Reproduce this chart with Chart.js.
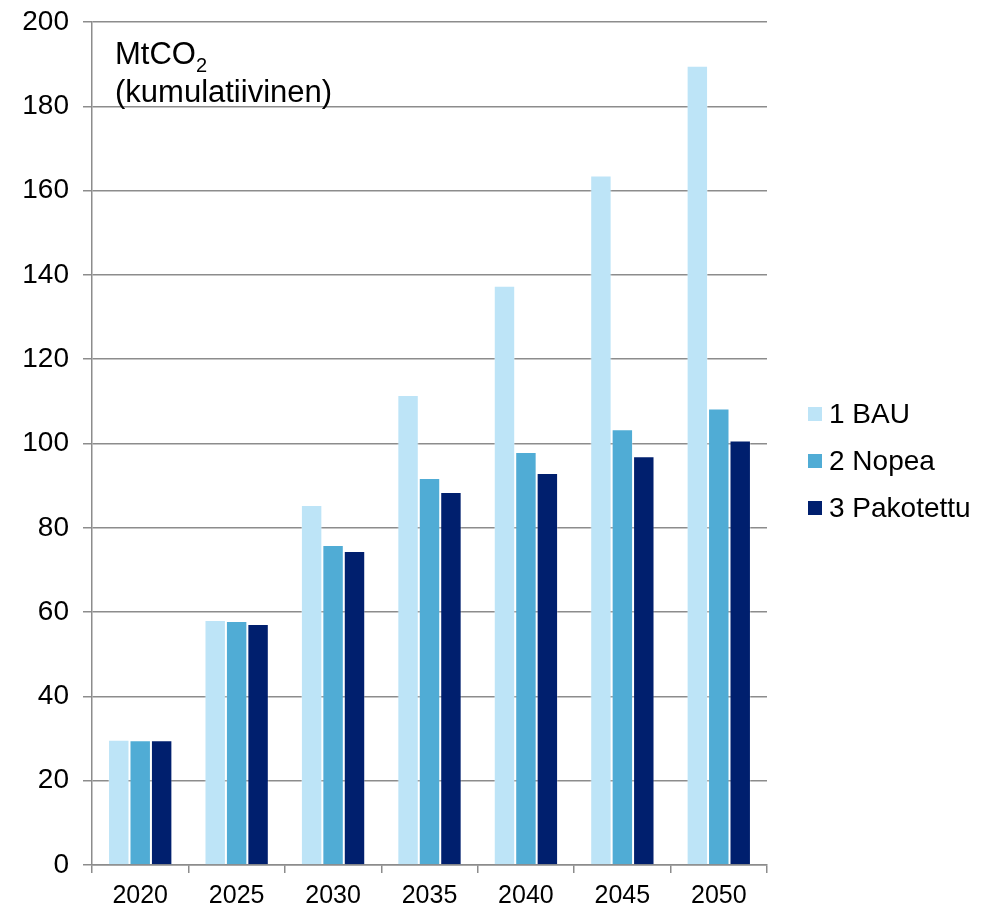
<!DOCTYPE html>
<html>
<head>
<meta charset="utf-8">
<script src="https://cdn.jsdelivr.net/npm/chart.js@4"></script>
<style>
  html, body { margin: 0; padding: 0; background: #fff; }
  #wrap { width: 986px; height: 910px; position: relative; }
</style>
</head>
<body>
<div id="wrap"><canvas id="myChart" width="986" height="910"></canvas></div>
<script>
// kumulatiiviset päästöt, MtCO2
const years = ['2020', '2025', '2030', '2035', '2040', '2045', '2050'];
const bau = [29.7, 58.1, 85.4, 111.5, 137.4, 163.6, 189.6];
const nopea = [29.6, 57.9, 75.9, 91.8, 98.0, 103.4, 108.3];
const pakotettu = [29.6, 57.2, 74.5, 88.5, 93.0, 97.0, 100.7];
const seriesNames = ['1 BAU', '2 Nopea', '3 Pakotettu'];
const yTicks = [0, 20, 40, 60, 80, 100, 120, 140, 160, 180, 200];

const colors = ['#bde4f7', '#50acd5', '#001f6e'];
const gridColor = '#8c8c8c';
const font = '"Liberation Sans", Arial, sans-serif';

// unit label in the upper left corner of the plot
const unitLabel = {
    id: 'unitLabel',
    afterDraw(chart) {
        const {ctx, chartArea} = chart;
        const x = chartArea.left + 23;
        ctx.save();
        ctx.fillStyle = '#000';
        ctx.textBaseline = 'alphabetic';
        ctx.textAlign = 'left';
        ctx.font = '31px ' + font;
        ctx.fillText('MtCO', x, chartArea.top + 42);
        const w = ctx.measureText('MtCO').width;
        ctx.font = '20px ' + font;
        ctx.fillText('2', x + w, chartArea.top + 50);
        ctx.font = '31px ' + font;
        ctx.fillText('(kumulatiivinen)', x, chartArea.top + 80);
        ctx.restore();
    }
};

// legend to the right of the plot, built from the datasets
const sideLegend = {
    id: 'sideLegend',
    afterDraw(chart) {
        const {ctx, chartArea} = chart;
        const x = chartArea.right + 41;
        const y0 = 407;
        const step = 47;
        ctx.save();
        ctx.font = '28px ' + font;
        ctx.textBaseline = 'alphabetic';
        chart.data.datasets.forEach((ds, i) => {
            const y = y0 + i * step;
            ctx.fillStyle = ds.backgroundColor;
            ctx.fillRect(x, y, 14, 14);
            ctx.fillStyle = '#000';
            ctx.fillText(ds.label, x + 21, y + 16);
        });
        ctx.restore();
    }
};

const makeSet = (label, data, i) => ({
    label: label,
    data: data,
    backgroundColor: colors[i],
    borderColor: 'rgba(255,255,255,0.3)',
    borderWidth: 1,
    categoryPercentage: 0.667,
    barPercentage: 1.0
});

const config = {
    type: 'bar',
    data: {
        labels: years,
        datasets: [
            makeSet(seriesNames[0], bau, 0),
            makeSet(seriesNames[1], nopea, 1),
            makeSet(seriesNames[2], pakotettu, 2)
        ]
    },
    options: {
        responsive: false,
        animation: false,
        events: [],
        layout: { padding: { top: 22, right: 219, bottom: 0, left: 0 } },
        plugins: {
            legend: { display: false },
            tooltip: { enabled: false }
        },
        scales: {
            x: {
                grid: {
                    display: true,
                    offset: true,
                    drawOnChartArea: false,
                    drawTicks: true,
                    tickLength: 8,
                    color: gridColor,
                    lineWidth: 1.5
                },
                border: { display: true, color: gridColor, width: 1.5 },
                ticks: {
                    color: '#000',
                    font: { family: font, size: 25 },
                    padding: 8,
                    maxRotation: 0
                },
                afterFit(scale) {
                    scale.height = 45;
                    scale.paddingLeft = 0;
                    scale.paddingRight = 0;
                }
            },
            y: {
                min: 0,
                max: 200,
                afterBuildTicks(scale) { scale.ticks = yTicks.map(v => ({ value: v })); },
                grid: {
                    color: gridColor,
                    lineWidth: 1.5,
                    drawTicks: true,
                    tickLength: 9
                },
                border: { display: true, color: gridColor, width: 1.5 },
                ticks: {
                    color: '#000',
                    font: { family: font, size: 28 },
                    padding: 14
                },
                afterFit(scale) {
                    scale.width = 92;
                    scale.paddingTop = 0;
                    scale.paddingBottom = 0;
                }
            }
        }
    },
    plugins: [unitLabel, sideLegend]
};

document.addEventListener('DOMContentLoaded', () => {
    new Chart(document.getElementById('myChart'), config);
});
</script>
</body>
</html>
